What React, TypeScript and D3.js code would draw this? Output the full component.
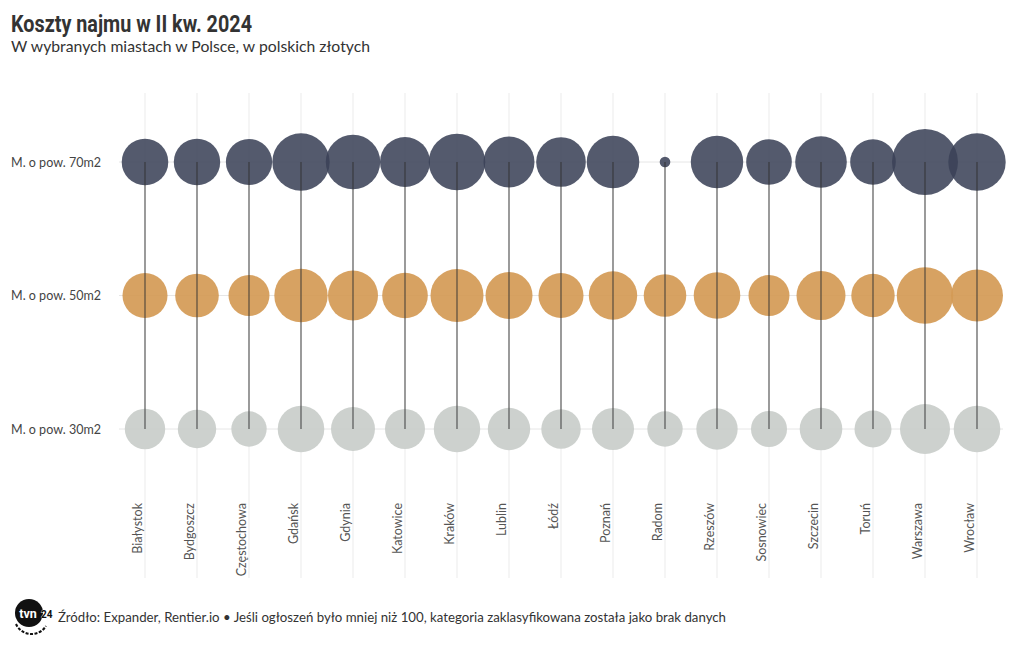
import React from "react";
import * as d3 from "d3";

const cities = ["Białystok","Bydgoszcz","Częstochowa","Gdańsk","Gdynia","Katowice","Kraków","Lublin","Łódź","Poznań","Radom","Rzeszów","Sosnowiec","Szczecin","Toruń","Warszawa","Wrocław"];
const rows = ["M. o pow. 70m2","M. o pow. 50m2","M. o pow. 30m2"];
const rent70: (number | null)[] = [2740,2720,2700,4160,3740,3160,4040,3280,3110,3490,null,3470,2630,3360,2630,5500,4160];
const rent50: (number | null)[] = [2560,2400,2120,3600,3160,2630,3550,2790,2560,2960,2290,2740,2120,3030,2380,4040,3410];
const rent30: (number | null)[] = [2060,1860,1580,2740,2440,2020,2720,2270,1960,2230,1580,2160,1640,2290,1730,3160,2740];
const series = [rent70, rent50, rent30];
const colors = ["#3b4257", "#d49a55", "#c9cdca"];
const opac = [0.87, 0.92, 0.92];

const title = "Koszty najmu w II kw. 2024";
const subtitle = "W wybranych miastach w Polsce, w polskich złotych";
const source = "Źródło: Expander, Rentier.io • Jeśli ogłoszeń było mniej niż 100, kategoria zaklasyfikowana została jako brak danych";

const W = 1020, H = 650;
const MISSING_R = 5.3;
const FONT = "Lato, 'Noto Sans', sans-serif";

export default function App() {
  const x = d3.scalePoint<string>().domain(cities).range([145, 977]);
  const y = d3.scalePoint<string>().domain(rows).range([162, 429]);
  const r = d3.scaleSqrt().domain([0, 5500]).range([0, 33]);
  const gridTop = 93, gridBottom = 578;

  return (
    <svg width={W} height={H} style={{ position: "absolute", left: 0, top: 0 }}>
      <rect width={W} height={H} fill="#fff" />
      <text x={11} y={31.5} fontFamily="Roboto, sans-serif" fontWeight={700} fontSize={23} fill="#333" textLength={241} lengthAdjust="spacingAndGlyphs">{title}</text>
      <text x={11} y={52} fontFamily={FONT} fontSize={15} fill="#333" textLength={359} lengthAdjust="spacingAndGlyphs">{subtitle}</text>

      {/* vertical gridlines */}
      {cities.map(c => (
        <line key={"gv" + c} x1={x(c)} x2={x(c)} y1={gridTop} y2={gridBottom} stroke="#ebebeb" strokeWidth={1} />
      ))}
      {/* horizontal gridlines */}
      {rows.map(rw => (
        <line key={"gh" + rw} x1={119} x2={1003} y1={y(rw)} y2={y(rw)} stroke="#e6e6e6" strokeWidth={1} />
      ))}

      {/* bubbles */}
      {series.map((s, si) => (
        <g key={"s" + si}>
          {cities.map((c, i) => {
            const v = s[i];
            return (
              <circle key={c} cx={x(c)} cy={y(rows[si])} r={v == null ? MISSING_R : r(v)} fill={colors[si]} fillOpacity={opac[si]} />
            );
          })}
        </g>
      ))}

      {/* connecting lines */}
      {cities.map(c => (
        <line key={"l" + c} x1={x(c)} x2={x(c)} y1={y(rows[0])} y2={y(rows[2])} stroke="#333" strokeOpacity={0.85} strokeWidth={1.1} />
      ))}

      {/* y labels */}
      {rows.map(rw => (
        <text key={"yl" + rw} x={101} y={(y(rw) as number) + 4.5} textAnchor="end" fontFamily={FONT} fontSize={12.5} fill="#444" textLength={90} lengthAdjust="spacingAndGlyphs">{rw}</text>
      ))}

      {/* x labels */}
      {cities.map(c => (
        <text key={"xl" + c} transform={`translate(${(x(c) as number) - 3.5},503) rotate(-90)`} textAnchor="end" fontFamily={FONT} fontSize={12.5} fill="#555">{c}</text>
      ))}

      {/* footer logo */}
      <g>
        <path d="M 16 624 A 17 17 0 0 0 46 626" fill="none" stroke="#111" strokeWidth={2} strokeDasharray="3 1.5" />
        <circle cx={29} cy={613} r={14} fill="#111" />
        <text x={28} y={618} textAnchor="middle" fontFamily="Roboto, sans-serif" fontWeight={700} fontSize={12.5} fill="#fff">tvn</text>
        <text x={41} y={618} fontFamily="Roboto, sans-serif" fontWeight={700} fontSize={10} fill="#111" stroke="#fff" strokeWidth={0.6} paintOrder="stroke">24</text>
      </g>
      <text x={58} y={622} fontFamily={FONT} fontSize={13} fill="#333" textLength={668} lengthAdjust="spacingAndGlyphs">{source}</text>
    </svg>
  );
}
